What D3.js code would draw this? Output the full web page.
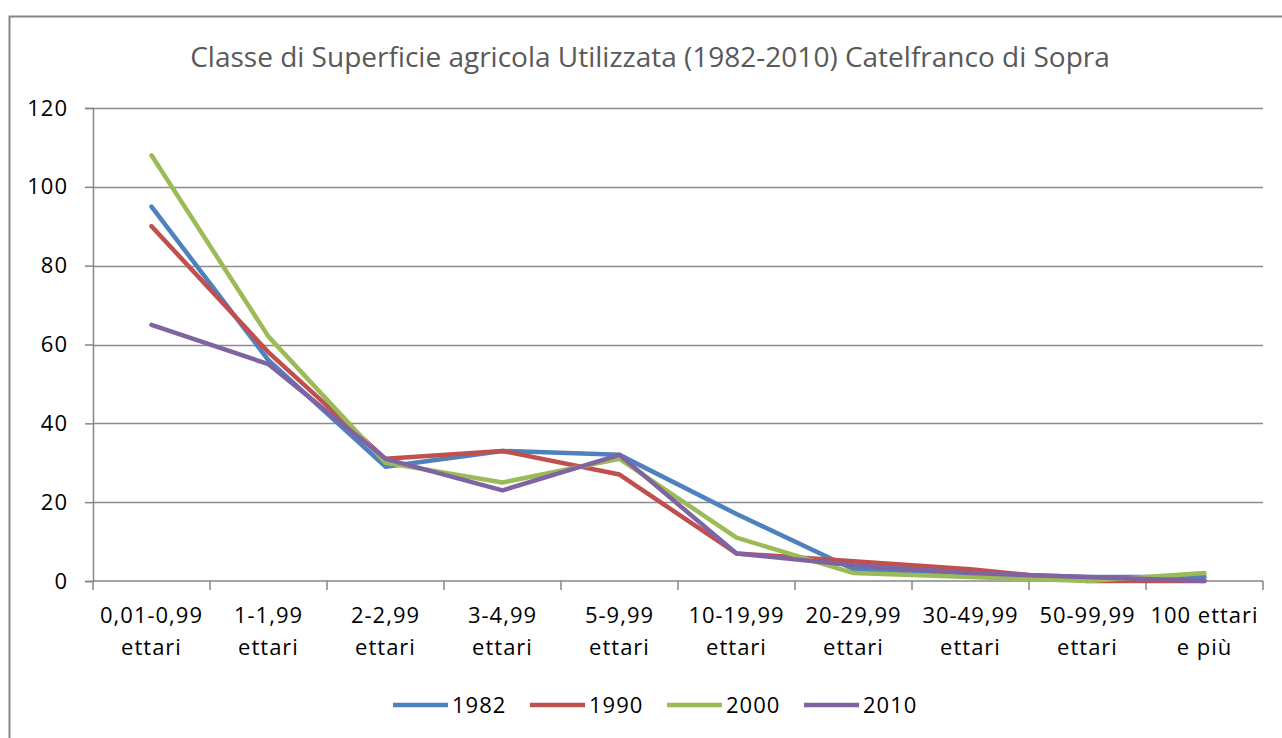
<!DOCTYPE html>
<html>
<head>
<meta charset="utf-8">
<script src="https://cdn.jsdelivr.net/npm/d3@7"></script>
<style>
  body { margin: 0; background: #fff; }
  svg text { font-family: "Open Sans", "Liberation Sans", sans-serif; }
</style>
</head>
<body>
<div id="chart"></div>
<script>
// DATA ---------------------------------------------------------------
const categories = [
  ["0,01-0,99", "ettari"], ["1-1,99", "ettari"], ["2-2,99", "ettari"],
  ["3-4,99", "ettari"], ["5-9,99", "ettari"], ["10-19,99", "ettari"],
  ["20-29,99", "ettari"], ["30-49,99", "ettari"], ["50-99,99", "ettari"],
  ["100 ettari", "e più"]
];
const years = ["1982", "1990", "2000", "2010"];
const values1982 = [95, 56, 29, 33, 32, 17, 3, 2, 1, 1];
const values1990 = [90, 58, 31, 33, 27, 7, 5, 3, 0, 0];
const values2000 = [108, 62, 30, 25, 31, 11, 2, 1, 0, 2];
const values2010 = [65, 55, 31, 23, 32, 7, 4, 2, 1, 0];
const yTicks = [0, 20, 40, 60, 80, 100, 120];
const colors = ["#4F81BD", "#C0504D", "#9BBB59", "#8064A2"];
const title = "Classe di Superficie agricola Utilizzata (1982-2010) Catelfranco di Sopra";

const series = [values1982, values1990, values2000, values2010];

// LAYOUT -------------------------------------------------------------
const width = 1282, height = 738;
const plot = { left: 93, right: 1263, top: 108, bottom: 581 };
const labelSize = 22;

const svg = d3.select("#chart").append("svg")
  .attr("width", width).attr("height", height);

svg.append("rect")
  .attr("x", 9.5).attr("y", 16.5)
  .attr("width", 1290).attr("height", 760)
  .attr("fill", "#fff").attr("stroke", "#868686").attr("stroke-width", 2);

svg.append("text")
  .attr("x", 650).attr("y", 67)
  .attr("text-anchor", "middle")
  .attr("font-size", 28).attr("fill", "#595959")
  .text(title);

// SCALES -------------------------------------------------------------
const x = d3.scaleBand().domain(d3.range(categories.length))
  .range([plot.left, plot.right]);
const y = d3.scaleLinear().domain([0, 120]).range([plot.bottom, plot.top]);

// GRID + Y AXIS ------------------------------------------------------
svg.append("g").selectAll("line")
  .data(yTicks.filter(d => d > 0))
  .join("line")
  .attr("x1", plot.left).attr("x2", plot.right)
  .attr("y1", d => Math.round(y(d)) + 0.5).attr("y2", d => Math.round(y(d)) + 0.5)
  .attr("stroke", "#8c8c8c").attr("stroke-width", 1.5);

const yAxis = svg.append("g")
  .attr("transform", `translate(${plot.left},0)`)
  .call(d3.axisLeft(y).tickValues(yTicks).tickSize(8).tickPadding(17));
yAxis.select(".domain").attr("stroke", "#868686").attr("stroke-width", 1.5);
yAxis.selectAll(".tick line").attr("stroke", "#868686").attr("stroke-width", 1.5);
yAxis.selectAll(".tick text")
  .attr("font-size", labelSize).attr("fill", "#000")
  .attr("letter-spacing", 1)
  .attr("font-family", "'Open Sans', sans-serif");

// X AXIS -------------------------------------------------------------
const xAxis = svg.append("g").attr("transform", `translate(0,${plot.bottom})`);
xAxis.append("line")
  .attr("x1", plot.left).attr("x2", plot.right)
  .attr("stroke", "#868686").attr("stroke-width", 1.5);
xAxis.selectAll(".tickmark")
  .data(d3.range(categories.length + 1))
  .join("line")
  .attr("class", "tickmark")
  .attr("x1", i => plot.left + i * x.step()).attr("x2", i => plot.left + i * x.step())
  .attr("y1", 0).attr("y2", 9)
  .attr("stroke", "#868686").attr("stroke-width", 1.5);
const labels = xAxis.selectAll(".xlabel")
  .data(categories)
  .join("text")
  .attr("class", "xlabel")
  .attr("text-anchor", "middle")
  .attr("font-size", labelSize).attr("fill", "#000")
  .attr("letter-spacing", 1)
  .attr("transform", (d, i) => `translate(${x(i) + x.bandwidth() / 2},0)`);
labels.append("tspan").attr("x", 0).attr("y", 42).text(d => d[0]);
labels.append("tspan").attr("x", 0).attr("y", 74).text(d => d[1]);

// LINES --------------------------------------------------------------
const line = d3.line()
  .x((d, i) => x(i) + x.bandwidth() / 2)
  .y(d => y(d));

svg.append("g").selectAll("path")
  .data(series)
  .join("path")
  .attr("d", line)
  .attr("fill", "none")
  .attr("stroke", (d, i) => colors[i])
  .attr("stroke-width", 4.5)
  .attr("stroke-linejoin", "round")
  .attr("stroke-linecap", "round");

// LEGEND -------------------------------------------------------------
const legend = svg.append("g").attr("transform", "translate(393,705)");
const item = legend.selectAll("g")
  .data(years)
  .join("g")
  .attr("transform", (d, i) => `translate(${i * 137},0)`);
item.append("line")
  .attr("x1", 0).attr("x2", 55)
  .attr("stroke", (d, i) => colors[i])
  .attr("stroke-width", 4.5);
item.append("text")
  .attr("x", 59).attr("y", 8)
  .attr("font-size", labelSize).attr("fill", "#000")
  .attr("letter-spacing", 1)
  .text(d => d);
</script>
</body>
</html>
